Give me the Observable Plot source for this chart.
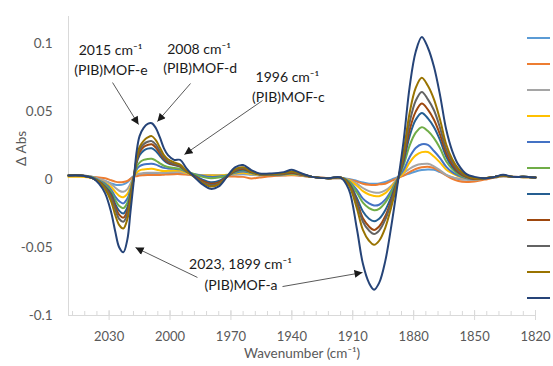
<!DOCTYPE html>
<html>
<head>
<meta charset="utf-8">
<script src="https://cdn.jsdelivr.net/npm/d3@7"></script>
<script src="https://cdn.jsdelivr.net/npm/@observablehq/plot@0.6"></script>
<style>
  html, body { margin: 0; padding: 0; background: #fff; }
  #wrap { position: relative; width: 553px; height: 366px; overflow: hidden; background: #fff; }
  .sw { position: absolute; left: 527px; width: 23px; height: 2px; }
</style>
</head>
<body>
<div id="wrap"></div>
<script>
// Wavenumber grid (cm-1)
const wavenumbers = [2050, 2044, 2038, 2035, 2032, 2029, 2027, 2025, 2023, 2021, 2019.5, 2018, 2016.5, 2015, 2013, 2011, 2009, 2007, 2005, 2003, 2001, 1998, 1995, 1992, 1988, 1984, 1980, 1976, 1972, 1968, 1964, 1960, 1956, 1950, 1944, 1940, 1936, 1930, 1922, 1916, 1912, 1908, 1905, 1902, 1899.5, 1897, 1894, 1891, 1888, 1885, 1882, 1879, 1876, 1873, 1870, 1867, 1864, 1861, 1858, 1854, 1850, 1845, 1840, 1836, 1831, 1826, 1820];

const s1 = [0.003, 0.003, 0.002, 0.0005, -0.001, -0.0028, -0.0038, -0.004, -0.0035, -0.002, 0.0005,
  0.0025, 0.0035, 0.004, 0.0043, 0.0045, 0.0046, 0.0046, 0.0045, 0.0045, 0.0046,
  0.0046, 0.0045, 0.004, 0.0035, 0.003, 0.003, 0.003, 0.0032, 0.0037, 0.004,
  0.0035, 0.003, 0.003, 0.0032, 0.0035, 0.003, 0.002, 0.001, 0.001, 0.0005,
  -0.001, -0.0022, -0.003, -0.003, -0.0028, -0.0018, 0.0, 0.0018, 0.003, 0.0045,
  0.006, 0.007, 0.0075, 0.0072, 0.0055, 0.0035, 0.0015, 0.0005, 0.0, 0.0,
  0.0008, 0.0015, 0.0025, 0.002, 0.0018, 0.0015];
const s2 = [0.003, 0.003, 0.002, 0.0015, 0.001, -0.0005, -0.0015, -0.002, -0.0018, -0.001, 0.0005,
  0.002, 0.0025, 0.003, 0.0032, 0.0033, 0.0033, 0.0033, 0.0034, 0.0036, 0.0038,
  0.004, 0.004, 0.0037, 0.0033, 0.003, 0.003, 0.0028, 0.0025, 0.0022, 0.002,
  0.0008, 0.0015, 0.0025, 0.003, 0.0032, 0.0028, 0.002, 0.001, 0.001, 0.0,
  -0.0015, -0.003, -0.0038, -0.004, -0.0035, -0.003, -0.001, 0.001, 0.003, 0.0055,
  0.0078, 0.009, 0.0094, 0.0085, 0.006, 0.003, 0.0005, -0.001, -0.0017, -0.0015,
  0.0, 0.0015, 0.0025, 0.002, 0.0018, 0.0015];
const s3 = [0.003, 0.003, 0.002, 0.0005, -0.001, -0.0035, -0.006, -0.0082, -0.009, -0.007, -0.003,
  0.002, 0.0038, 0.0045, 0.0048, 0.005, 0.005, 0.005, 0.0049, 0.0051, 0.0054,
  0.0057, 0.0056, 0.0047, 0.0037, 0.0032, 0.003, 0.003, 0.0033, 0.004, 0.0045,
  0.0039, 0.0034, 0.0033, 0.0035, 0.004, 0.0033, 0.002, 0.001, 0.0012, 0.0,
  -0.003, -0.0062, -0.0085, -0.0095, -0.0097, -0.008, -0.0045, 0.001, 0.0045, 0.008,
  0.0104, 0.0114, 0.0116, 0.0098, 0.0068, 0.0035, 0.0018, 0.0008, 0.0, -0.0003,
  0.0008, 0.002, 0.0025, 0.002, 0.0018, 0.0015];
const s4 = [0.002, 0.002, 0.001, -0.0005, -0.0025, -0.0055, -0.009, -0.012, -0.013, -0.0105, -0.0055,
  0.0015, 0.005, 0.0068, 0.0075, 0.0078, 0.0079, 0.0075, 0.0067, 0.0063, 0.0065,
  0.0067, 0.0066, 0.005, 0.0035, 0.003, 0.003, 0.003, 0.0035, 0.0045, 0.005,
  0.0042, 0.0035, 0.0034, 0.0036, 0.004, 0.0034, 0.002, 0.001, 0.0012, -0.0005,
  -0.0045, -0.0085, -0.011, -0.012, -0.0122, -0.010, -0.0055, 0.0005, 0.005, 0.0125,
  0.0178, 0.0202, 0.0203, 0.017, 0.0125, 0.0075, 0.0045, 0.0025, 0.001, 0.0002,
  0.001, 0.002, 0.0028, 0.002, 0.0018, 0.0015];
const s5 = [0.003, 0.003, 0.0015, -0.0005, -0.003, -0.0075, -0.0125, -0.016, -0.0175, -0.014, -0.0075,
  0.0015, 0.0073, 0.0098, 0.0111, 0.0115, 0.0116, 0.011, 0.0097, 0.0086, 0.0082,
  0.0079, 0.0075, 0.0057, 0.004, 0.0028, 0.002, 0.0022, 0.003, 0.005, 0.006,
  0.0048, 0.0038, 0.0036, 0.0038, 0.0045, 0.0036, 0.002, 0.001, 0.0015, -0.001,
  -0.0075, -0.014, -0.0175, -0.019, -0.0185, -0.0148, -0.008, 0.0005, 0.007, 0.0165,
  0.0232, 0.026, 0.0255, 0.021, 0.0158, 0.0095, 0.0055, 0.003, 0.001, 0.0002,
  0.001, 0.002, 0.003, 0.002, 0.002, 0.0015];
const s6 = [0.003, 0.003, 0.0015, -0.001, -0.004, -0.009, -0.015, -0.0195, -0.021, -0.017, -0.009,
  0.001, 0.009, 0.0125, 0.0145, 0.0152, 0.0153, 0.014, 0.012, 0.0102, 0.0093,
  0.0085, 0.008, 0.006, 0.004, 0.002, 0.001, 0.0015, 0.003, 0.0055, 0.0068,
  0.005, 0.004, 0.0038, 0.004, 0.0045, 0.0038, 0.002, 0.001, 0.0015, -0.0015,
  -0.0095, -0.017, -0.021, -0.0225, -0.0215, -0.017, -0.0095, 0.0, 0.0105, 0.025,
  0.0345, 0.0386, 0.0357, 0.0305, 0.023, 0.0135, 0.0078, 0.004, 0.0015, 0.0005,
  0.001, 0.002, 0.003, 0.002, 0.002, 0.0015];
const s7 = [0.003, 0.003, 0.001, -0.0015, -0.005, -0.0105, -0.018, -0.023, -0.025, -0.0205, -0.011,
  0.0005, 0.012, 0.018, 0.0213, 0.0228, 0.023, 0.021, 0.0175, 0.014, 0.012,
  0.0107, 0.0095, 0.0062, 0.003, 0.0, -0.002, -0.001, 0.0025, 0.006, 0.0075,
  0.0055, 0.004, 0.004, 0.0042, 0.005, 0.004, 0.002, 0.001, 0.0015, -0.0025,
  -0.0135, -0.0235, -0.0288, -0.0306, -0.0288, -0.0225, -0.0125, -0.0005, 0.013, 0.032,
  0.044, 0.049, 0.045, 0.0385, 0.029, 0.017, 0.0095, 0.005, 0.002, 0.0005,
  0.001, 0.002, 0.003, 0.002, 0.002, 0.0015];
const s8 = [0.003, 0.003, 0.001, -0.0015, -0.0055, -0.012, -0.020, -0.026, -0.028, -0.023, -0.012,
  0.0, 0.013, 0.020, 0.024, 0.0255, 0.026, 0.0235, 0.0195, 0.0152, 0.0127,
  0.011, 0.0097, 0.0063, 0.0025, -0.001, -0.003, -0.002, 0.002, 0.0065, 0.008,
  0.0055, 0.004, 0.004, 0.0042, 0.005, 0.004, 0.002, 0.001, 0.0015, -0.003,
  -0.016, -0.0285, -0.0345, -0.037, -0.0345, -0.027, -0.015, -0.001, 0.015, 0.0365,
  0.050, 0.056, 0.0515, 0.044, 0.033, 0.0195, 0.011, 0.0055, 0.002, 0.0005,
  0.001, 0.002, 0.003, 0.002, 0.002, 0.0015];
const s9 = [0.003, 0.003, 0.001, -0.002, -0.006, -0.0135, -0.022, -0.029, -0.031, -0.0255, -0.013,
  0.0, 0.014, 0.022, 0.026, 0.0278, 0.0283, 0.0257, 0.021, 0.0163, 0.0136,
  0.0116, 0.010, 0.0061, 0.002, -0.002, -0.004, -0.003, 0.002, 0.007, 0.0085,
  0.006, 0.004, 0.004, 0.0045, 0.0055, 0.0042, 0.002, 0.001, 0.0015, -0.0035,
  -0.0175, -0.031, -0.0375, -0.040, -0.0375, -0.0295, -0.0165, -0.0015, 0.017, 0.042,
  0.058, 0.0645, 0.059, 0.051, 0.038, 0.0225, 0.013, 0.0065, 0.0025, 0.001,
  0.001, 0.002, 0.003, 0.002, 0.002, 0.0015];
const s10 = [0.003, 0.003, 0.001, -0.002, -0.007, -0.016, -0.026, -0.0335, -0.036, -0.029, -0.015,
  0.0, 0.015, 0.024, 0.0285, 0.031, 0.032, 0.029, 0.0236, 0.018, 0.015,
  0.0127, 0.011, 0.0065, 0.002, -0.0025, -0.005, -0.0035, 0.002, 0.0075, 0.009,
  0.006, 0.004, 0.004, 0.0048, 0.006, 0.0045, 0.002, 0.001, 0.0015, -0.004,
  -0.021, -0.037, -0.045, -0.048, -0.045, -0.0355, -0.020, -0.002, 0.020, 0.049,
  0.0675, 0.075, 0.069, 0.059, 0.044, 0.026, 0.015, 0.008, 0.003, 0.001,
  0.001, 0.002, 0.003, 0.002, 0.002, 0.0015];
const s11 = [0.003, 0.003, 0.001, -0.003, -0.010, -0.024, -0.038, -0.050, -0.0535, -0.044, -0.024,
  -0.003, 0.020, 0.032, 0.038, 0.041, 0.0415, 0.038, 0.031, 0.023, 0.018,
  0.0145, 0.0145, 0.0085, 0.002, -0.0035, -0.0068, -0.005, 0.002, 0.009, 0.0107,
  0.007, 0.0045, 0.0045, 0.0055, 0.0072, 0.005, 0.002, 0.001, 0.0015, -0.007,
  -0.036, -0.062, -0.076, -0.081, -0.076, -0.060, -0.034, -0.004, 0.028, 0.068,
  0.094, 0.105, 0.097, 0.083, 0.062, 0.037, 0.021, 0.011, 0.004, 0.002,
  0.001, 0.002, 0.0035, 0.002, 0.002, 0.0015];

const seriesNames = ["s1", "s2", "s3", "s4", "s5", "s6", "s7", "s8", "s9", "s10", "s11"];
const seriesValues = [s1, s2, s3, s4, s5, s6, s7, s8, s9, s10, s11];
const seriesColors = ["#5B9BD5", "#ED7D31", "#A5A5A5", "#FFC000", "#4472C4", "#70AD47", "#255E91", "#9E480E", "#636363", "#997300", "#264478"];

const xTicks = [2030, 2000, 1970, 1940, 1910, 1880, 1850, 1820];
const xMinorTicks = d3.range(1826, 2050, 6);
const yTicks = [0.1, 0.05, 0, -0.05, -0.1];
const xDomain = [2050, 1820];
const yDomain = [-0.1, 0.12];

// annotations (data coordinates)
const annoLabels = ["2015 cm\u207B\u00B9", "(PIB)MOF-e", "2008 cm\u207B\u00B9", "(PIB)MOF-d", "1996 cm\u207B\u00B9", "(PIB)MOF-c", "2023, 1899 cm\u207B\u00B9", "(PIB)MOF-a"];
const annoX = [2029.3, 2029.1, 1985.7, 1985.2, 1942.2, 1941.7, 1965.3, 1965.0];
const annoY = [0.095, 0.0803, 0.0957, 0.0817, 0.0751, 0.0604, -0.0625, -0.078];

const arrowX1 = [2028.3, 1989.9, 1954.4, 1986.5, 1944.6];
const arrowY1 = [0.0714, 0.0707, 0.0582, -0.072, -0.0787];
const arrowX2 = [2015.5, 2006.2, 1992.9, 2017.0, 1905.2];
const arrowY2 = [0.0405, 0.0427, 0.0185, -0.050, -0.0684];

const rows = [];
seriesNames.forEach((name, i) => {
  wavenumbers.forEach((w, j) => rows.push({w, v: seriesValues[i][j], s: name}));
});
const annos = annoLabels.map((t, i) => ({t, x: annoX[i], y: annoY[i]}));
const arrows = arrowX1.map((x1, i) => ({x1, y1: arrowY1[i], x2: arrowX2[i], y2: arrowY2[i]}));

const font = "Lato, 'Open Sans', sans-serif";
const axisGray = "#D9D9D9";
const textGray = "#595959";

const chart = Plot.plot({
  width: 553,
  height: 366,
  marginLeft: 68,
  marginRight: 18,
  marginTop: 16,
  marginBottom: 51,
  x: {domain: xDomain, axis: null},
  y: {domain: yDomain, axis: null},
  color: {domain: seriesNames, range: seriesColors},
  style: {fontFamily: font, fontSize: "13px", background: "white", overflow: "visible"},
  marks: [
    Plot.ruleY([yDomain[0]], {stroke: axisGray, strokeWidth: 1}),
    Plot.ruleX([xDomain[0]], {stroke: axisGray, strokeWidth: 1}),
    Plot.ruleX(xTicks, {y1: yDomain[0], y2: yDomain[0], insetTop: 5, insetBottom: 5, stroke: axisGray}),
    Plot.ruleX(xMinorTicks, {y1: yDomain[0], y2: yDomain[0], insetTop: 0, insetBottom: 4, stroke: axisGray}),
    Plot.text(xTicks, {x: d => d, y: yDomain[0], dy: 21, text: d => String(d), fill: textGray, fontSize: 13}),
    Plot.text(yTicks, {x: xDomain[0], y: d => d, dx: -16, textAnchor: "end", text: d => String(d), fill: textGray, fontSize: 13.5}),
    Plot.text(["Wavenumber (cm\u207B\u00B9)"], {frameAnchor: "bottom", dy: 42, fill: textGray, fontSize: 13.5}),
    Plot.text(["\u0394 Abs"], {frameAnchor: "left", dx: -47, rotate: -90, fill: textGray, fontSize: 13.5}),
    Plot.line(rows, {x: "w", y: "v", z: "s", stroke: "s", strokeWidth: 2, curve: "catmull-rom"}),
    Plot.link(arrows, {x1: "x1", y1: "y1", x2: "x2", y2: "y2", stroke: "#595959", strokeWidth: 1}),
    Plot.text(annos, {x: "x", y: "y", text: "t", fill: "#1a1a1a", fontSize: 14})
  ]
});

// filled triangular arrow heads on the annotation links
const svg = d3.select(chart);
const defs = svg.insert("defs", ":first-child");
defs.append("marker")
  .attr("id", "tri-head")
  .attr("viewBox", "0 0 10 10")
  .attr("refX", 10).attr("refY", 5)
  .attr("markerWidth", 9).attr("markerHeight", 8)
  .attr("markerUnits", "userSpaceOnUse")
  .attr("orient", "auto")
  .append("path").attr("d", "M0,0L10,5L0,10Z").attr("fill", "#1a1a1a");
svg.selectAll('g[aria-label="link"] path').attr("marker-end", "url(#tri-head)");

const wrap = document.getElementById("wrap");
wrap.appendChild(chart);

// legend swatches (labels fall outside the visible area, as in the original)
seriesColors.forEach((c, i) => {
  const d = document.createElement("div");
  d.className = "sw";
  d.style.top = (37 + 26 * i) + "px";
  d.style.background = c;
  wrap.appendChild(d);
});
</script>
</body>
</html>
